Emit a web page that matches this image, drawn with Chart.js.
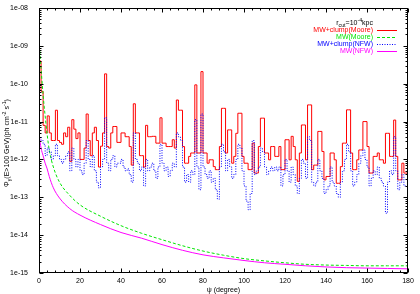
<!DOCTYPE html>
<html><head><meta charset="utf-8">
<script src="https://cdn.jsdelivr.net/npm/chart.js@4"></script>
<style>html,body{margin:0;padding:0;background:#fff}#wrap{width:420px;height:294px;position:relative}</style>
</head><body><div id="wrap"><canvas id="c" width="420" height="294"></canvas></div>
<script>
// psi bins (degree), 1-degree wide, start values 0..179
const psiBins = Array.from({length:180}, (_, i) => i);
// log10 of flux, MW+clump(Moore) (red step)
const clumpMoore = [
-9.0,-9.4,-10.2,-11.1,-11.3,-10.85,-11.3,-11.5,-11.5,-10.7,
-11.5,-11.55,-11.6,-11.3,-11.4,-11.15,-12.05,-10.95,-11.2,-11.45,
-11.3,-12.0,-12.0,-11.7,-10.8,-11.5,-11.9,-11.3,-11.15,-11.5,
-12.2,-11.65,-11.3,-9.74,-11.66,-11.7,-11.3,-11.13,-11.13,-11.55,
-11.55,-11.3,-11.3,-11.4,-11.4,-11.66,-12.15,-10.53,-11.3,-11.3,
-11.9,-11.9,-12.2,-11.1,-11.4,-11.4,-11.39,-11.39,-11.57,-11.57,
-10.9,-11.57,-11.57,-11.66,-11.66,-11.66,-11.48,-11.7,-10.43,-10.7,
-10.7,-11.66,-12.1,-12.1,-11.92,-11.83,-11.83,-10.03,-11.83,-11.83,
-9.68,-11.83,-11.83,-12.1,-12.01,-12.01,-12.19,-12.27,-12.27,-11.66,
-10.65,-10.65,-11.83,-11.22,-11.22,-12.1,-11.92,-11.31,-10.78,-10.78,
-11.92,-12.1,-12.1,-12.27,-12.27,-11.57,-12.36,-12.36,-11.66,-10.91,
-10.91,-11.83,-11.83,-12.01,-11.66,-11.66,-11.92,-11.92,-11.66,-12.27,
-12.27,-11.48,-11.48,-12.01,-11.39,-11.66,-12.01,-12.58,-11.83,-11.09,
-11.09,-12.01,-10.56,-10.56,-12.27,-12.15,-12.15,-11.26,-11.26,-11.79,
-12.54,-12.45,-12.45,-11.83,-11.83,-12.01,-12.63,-12.63,-12.19,-11.57,
-11.57,-10.69,-10.69,-11.83,-12.27,-12.27,-12.01,-11.75,-11.75,-11.0,
-11.0,-11.66,-12.36,-12.36,-11.92,-11.92,-11.83,-12.01,-12.01,-12.1,
-11.31,-11.31,-11.92,-11.92,-10.96,-11.92,-12.54,-12.54,-12.1,-12.36
];
// log10 of flux, MW+clump(NFW) (blue dotted step)
const clumpNfw = [
-11.2,-11.4,-11.5,-11.6,-11.9,-11.7,-11.8,-12.0,-11.9,-11.6,
-11.9,-12.0,-12.1,-12.0,-11.9,-11.8,-12.3,-11.7,-12.0,-12.2,
-12.0,-12.3,-12.4,-12.1,-11.5,-12.0,-12.2,-11.9,-12.3,-12.6,
-12.75,-12.2,-12.0,-10.9,-12.1,-12.3,-12.0,-11.9,-12.2,-12.1,
-12.1,-12.0,-12.2,-12.3,-12.25,-12.4,-12.6,-11.3,-12.0,-12.1,
-12.3,-12.2,-12.7,-12.0,-12.3,-12.2,-12.1,-12.3,-12.5,-12.2,
-11.6,-12.1,-12.3,-12.2,-12.45,-12.3,-12.1,-12.2,-11.3,-11.4,
-11.5,-12.2,-12.6,-12.4,-12.6,-12.3,-12.4,-10.95,-12.2,-12.8,
-10.8,-12.2,-12.4,-12.5,-12.3,-12.6,-12.5,-12.8,-13.05,-12.2,
-11.6,-11.8,-12.3,-12.0,-12.2,-12.5,-12.4,-12.0,-11.6,-11.7,
-12.3,-12.7,-13.1,-13.33,-12.9,-11.5,-12.4,-12.3,-12.2,-11.7,
-11.8,-12.2,-12.4,-12.3,-12.2,-12.3,-12.2,-12.3,-12.2,-12.7,
-12.4,-12.0,-12.3,-12.6,-12.2,-12.4,-12.7,-12.9,-12.5,-12.0,
-12.1,-12.5,-11.4,-11.5,-12.6,-12.7,-12.6,-12.0,-12.3,-12.5,
-12.9,-12.8,-12.7,-12.2,-12.6,-12.7,-12.9,-13.0,-12.6,-12.3,
-12.0,-11.6,-11.8,-12.3,-12.7,-12.6,-12.4,-12.1,-11.9,-11.75,
-12.0,-12.2,-12.7,-12.5,-12.3,-12.4,-12.2,-12.5,-12.6,-12.7,
-13.42,-12.6,-12.3,-12.4,-11.4,-12.3,-12.8,-12.6,-12.4,-12.7
];
// smooth curves
const curvePsi = [0.2,1,2,3,4,5,7,10,15,20,30,40,50,60,70,80,90,100,110,120,130,140,150,160,170,180];
const mwMoore  = [-9.0,-9.6,-10.3,-10.85,-11.35,-11.75,-12.2,-12.6,-12.95,-13.2,-13.5,-13.75,-13.95,-14.12,-14.28,-14.42,-14.53,-14.62,-14.68,-14.73,-14.77,-14.79,-14.8,-14.81,-14.81,-14.81];
const mwNfw    = [-11.4,-11.7,-11.9,-12.1,-12.25,-12.45,-12.75,-13.02,-13.3,-13.47,-13.72,-13.93,-14.08,-14.25,-14.4,-14.52,-14.6,-14.67,-14.73,-14.77,-14.81,-14.84,-14.86,-14.87,-14.88,-14.89];
const xTicks = [0,20,40,60,80,100,120,140,160,180];
const yDecades = [-15,-14,-13,-12,-11,-10,-9,-8];

const FONT = '"Liberation Sans", Arial, Helvetica, sans-serif';
Chart.defaults.font.family = FONT;
Chart.defaults.font.size = 7;
Chart.defaults.color = '#000';

const RED='#ff0000', GREEN='#00e600', BLUE='#0000ff', MAG='#ff00ff';

function stepData(vals){
  const d = vals.map((v,i)=>({x:psiBins[i], y:Math.pow(10,v)}));
  d.push({x:180, y:Math.pow(10, vals[vals.length-1])});
  return d;
}
function curveData(xs, vals){ return xs.map((x,i)=>({x, y:Math.pow(10,vals[i])})); }

function drawRich(ctx, segs, x, y, size, align){
  let w = 0;
  for (const s of segs){ ctx.font = (s.t==='n'?size:size*0.75)+'px '+FONT; w += ctx.measureText(s.s).width; }
  let cx = align==='right' ? x - w : align==='center' ? x - w/2 : x;
  for (const s of segs){
    const sz = s.t==='n'?size:size*0.75;
    ctx.font = sz+'px '+FONT;
    const dy = s.t==='sub' ? size*0.3 : s.t==='sup' ? -size*0.4 : 0;
    ctx.textAlign='left'; ctx.textBaseline='alphabetic';
    ctx.fillText(s.s, cx, y+dy);
    cx += ctx.measureText(s.s).width;
  }
}

const framePlugin = {
  id:'frame',
  afterDraw(chart){
    const {ctx, chartArea:a, scales:{x, y}} = chart;
    const L=Math.round(a.left)+0.5, R=Math.round(a.right)-0.5, T=Math.round(a.top)+0.5, B=Math.round(a.bottom)-0.5;
    ctx.save();
    ctx.strokeStyle='#000'; ctx.lineWidth=1;
    ctx.strokeRect(L, T, R-L, B-T);
    ctx.beginPath();
    for (let v=0; v<=180; v+=4){
      const px = Math.round(x.getPixelForValue(v))+0.5;
      const len = (v%20===0)?4:2;
      ctx.moveTo(px,B); ctx.lineTo(px,B-len);
      ctx.moveTo(px,T); ctx.lineTo(px,T+len);
    }
    for (let e=-15; e<=-8; e++){
      for (let k=1;k<=9;k++){
        if (e===-8 && k>1) break;
        const py = Math.round(y.getPixelForValue(k*Math.pow(10,e)))+0.5;
        const len = k===1?4:2;
        ctx.moveTo(L,py); ctx.lineTo(L+len,py);
        ctx.moveTo(R,py); ctx.lineTo(R-len,py);
      }
    }
    ctx.stroke();
    // legend
    const tx = 373, sx0 = 377, sx1 = 397;
    ctx.fillStyle='#000';
    drawRich(ctx,[{s:'r',t:'n'},{s:'cut',t:'sub'},{s:'=10',t:'n'},{s:'-4',t:'sup'},{s:'kpc',t:'n'}], tx, 25, 7, 'right');
    const rows = [
      {t:'MW+clump(Moore)', c:RED, y:29.5, dash:[]},
      {t:'MW(Moore)', c:GREEN, y:36.5, dash:[3,2]},
      {t:'MW+clump(NFW)', c:BLUE, y:43.5, dash:[1,1.5]},
      {t:'MW(NFW)', c:MAG, y:50.5, dash:[]}
    ];
    for (const r of rows){
      ctx.fillStyle=r.c;
      drawRich(ctx,[{s:r.t,t:'n'}], tx, r.y+2.5, 7, 'right');
      ctx.strokeStyle=r.c; ctx.setLineDash(r.dash); ctx.beginPath();
      ctx.moveTo(sx0, Math.round(r.y)+0.5); ctx.lineTo(sx1, Math.round(r.y)+0.5); ctx.stroke();
    }
    ctx.setLineDash([]);
    // axis titles
    ctx.fillStyle='#000';
    drawRich(ctx,[{s:'ψ (degree)',t:'n'}], (L+R)/2, 292, 7, 'center');
    ctx.translate(9, 143); ctx.rotate(-Math.PI/2);
    drawRich(ctx,[{s:'Φ',t:'n'},{s:'γ',t:'sub'},{s:'(E>100 GeV)(ph cm',t:'n'},{s:'-2',t:'sup'},{s:' s',t:'n'},{s:'-1',t:'sup'},{s:')',t:'n'}], 0, 0, 7, 'center');
    ctx.restore();
  }
};

new Chart(document.getElementById('c').getContext('2d'), {
  type:'line',
  data:{datasets:[
    {label:'MW(NFW)', data:curveData(curvePsi, mwNfw), borderColor:MAG, borderWidth:1, pointRadius:0, cubicInterpolationMode:'monotone', fill:false, order:1},
    {label:'MW+clump(NFW)', data:stepData(clumpNfw), stepped:'after', borderColor:BLUE, borderWidth:1, borderDash:[1,1.5], pointRadius:0, fill:false, order:2},
    {label:'MW(Moore)', data:curveData(curvePsi, mwMoore), borderColor:GREEN, borderWidth:1, borderDash:[3,2], pointRadius:0, cubicInterpolationMode:'monotone', fill:false, order:3},
    {label:'MW+clump(Moore)', data:stepData(clumpMoore), stepped:'after', borderColor:RED, borderWidth:1, pointRadius:0, fill:false, order:4}
  ]},
  options:{
    responsive:false, animation:false, devicePixelRatio:1,
    layout:{padding:{top:8, right:12, left:0, bottom:0}},
    plugins:{legend:{display:false}, tooltip:{enabled:false}},
    scales:{
      x:{type:'linear', min:0, max:180,
         afterBuildTicks(s){ s.ticks = xTicks.map(v=>({value:v})); },
         ticks:{padding:4, maxRotation:0, autoSkip:false, font:{size:7}},
         grid:{display:false, drawTicks:false, tickLength:0}, border:{display:false},
         afterFit(s){ s.height = 21; s.paddingLeft = 0; s.paddingRight = 0; }},
      y:{type:'logarithmic', min:1e-15, max:1e-8,
         afterBuildTicks(s){ s.ticks = yDecades.map(e=>({value:Math.pow(10,e), major:true})); },
         ticks:{autoSkip:false, padding:11, font:{size:7},
           callback(v){ const l=Math.round(Math.log10(v)); return '1e-' + String(-l).padStart(2,'0'); }},
         grid:{display:false, drawTicks:false, tickLength:0}, border:{display:false},
         afterFit(s){ s.width = 39; s.paddingTop = 0; s.paddingBottom = 0; }}
    }
  },
  plugins:[framePlugin]
});
</script></body></html>
